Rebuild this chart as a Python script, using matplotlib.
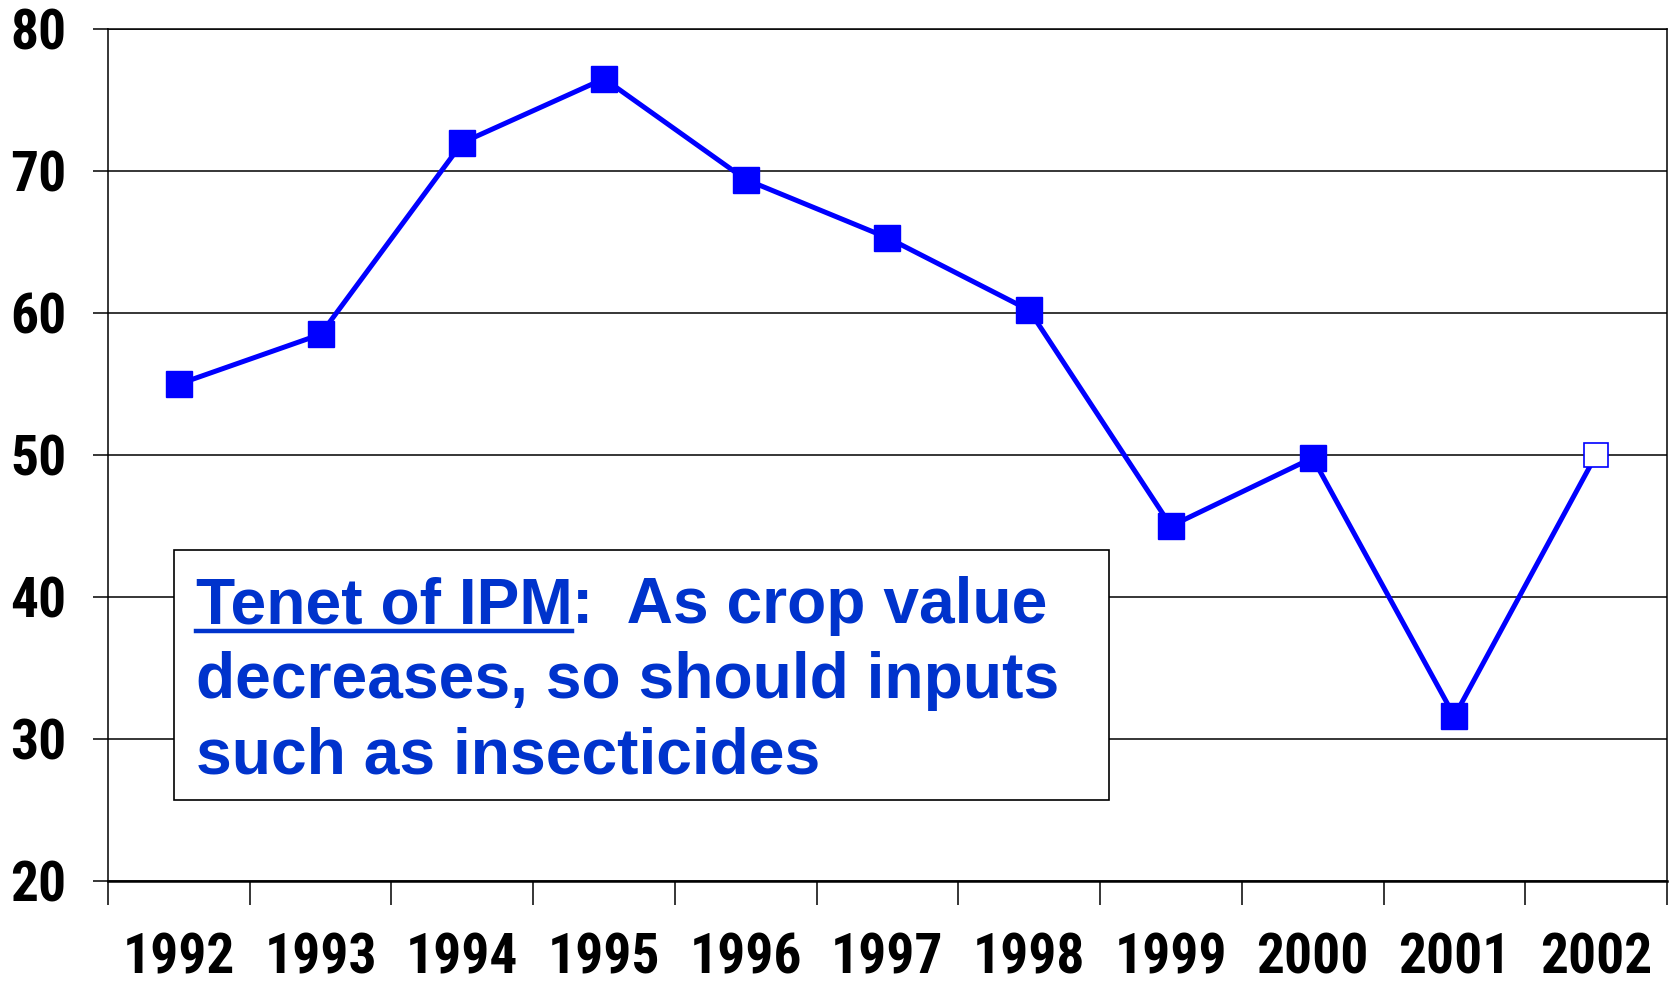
import matplotlib
matplotlib.use("Agg")
import matplotlib.pyplot as plt
from matplotlib.patches import Rectangle
from matplotlib import font_manager

years = ["1992", "1993", "1994", "1995", "1996", "1997", "1998", "1999", "2000", "2001", "2002"]
values = [55.0, 58.5, 72.0, 76.5, 69.4, 65.3, 60.2, 45.0, 49.8, 31.6, 50.0]
yticks = [20, 30, 40, 50, 60, 70, 80]

names = {f.name for f in font_manager.fontManager.ttflist}
narrow = "Liberation Sans"
for cand in ["Liberation Sans Narrow", "Roboto Condensed", "PT Sans Narrow", "Pragati Narrow"]:
    if cand in names:
        narrow = cand
        break

fig = plt.figure(figsize=(16.75, 9.81), dpi=100)
ax = fig.add_axes([0.0645, 0.1019, 0.9307, 0.8685])

x = list(range(len(years)))
blue = "#0000FF"
ax.plot(x, values, color=blue, lw=3.6, zorder=3)
ax.plot(x[:-1], values[:-1], ls="none", marker="s", ms=18.5, mfc=blue, mec=blue, zorder=4)
ax.plot(x[-1:], values[-1:], ls="none", marker="s", ms=17.5, mfc="white", mec=blue, mew=1.2, zorder=4)

ax.set_xlim(-0.5, len(years) - 0.5)
ax.set_ylim(20, 80)
ax.set_yticks(yticks)
ax.yaxis.grid(True, color="black", lw=1.1)
ax.set_axisbelow(True)

ax.set_xticks([i - 0.5 for i in range(len(years) + 1)])
ax.set_xticklabels([])
ax.set_xticks(x, minor=True)
ax.set_xticklabels(years, minor=True, fontsize=40, fontweight="bold", family=narrow)
ax.tick_params(axis="x", which="major", length=17, width=1.1, direction="out")
ax.tick_params(axis="x", which="minor", length=0, pad=37)
ax.tick_params(axis="y", length=11, width=1.1, pad=19)
for lab in ax.get_yticklabels():
    lab.set_fontsize(40)
    lab.set_fontweight("bold")
    lab.set_family(narrow)

for s in ["left", "right", "top"]:
    ax.spines[s].set_linewidth(1.1)
ax.spines["bottom"].set_linewidth(1.8)

# text box
ax.add_patch(Rectangle((0.0423, 0.095), 0.5997, 0.2935, transform=ax.transAxes,
                       facecolor="white", edgecolor="black", lw=1.2, zorder=5))
tcol = "#0033CC"
fs = 46.2
x0 = 195.5 / 1675
base = [1 - 623 / 981, 1 - 698 / 981, 1 - 774 / 981]
t1 = fig.text(x0, base[0], "Tenet of IPM", fontsize=fs, fontweight="bold", color=tcol,
              family="Liberation Sans", va="baseline", zorder=6)
fig.canvas.draw()
r = fig.canvas.get_renderer()
bb = t1.get_window_extent(r)
x1 = bb.x1 / 1675
fig.text(x1, base[0], ":  As crop value", fontsize=fs, fontweight="bold", color=tcol,
         family="Liberation Sans", va="baseline", zorder=6)
uy = 1 - 631 / 981
fig.add_artist(plt.Line2D([x0, x1], [uy, uy], color=tcol, lw=3.2, transform=fig.transFigure, zorder=6))
fig.text(x0, base[1], "decreases, so should inputs", fontsize=fs, fontweight="bold", color=tcol,
         family="Liberation Sans", va="baseline", zorder=6)
fig.text(x0, base[2], "such as insecticides", fontsize=fs, fontweight="bold", color=tcol,
         family="Liberation Sans", va="baseline", zorder=6)

fig.savefig("out.png", dpi=100)
